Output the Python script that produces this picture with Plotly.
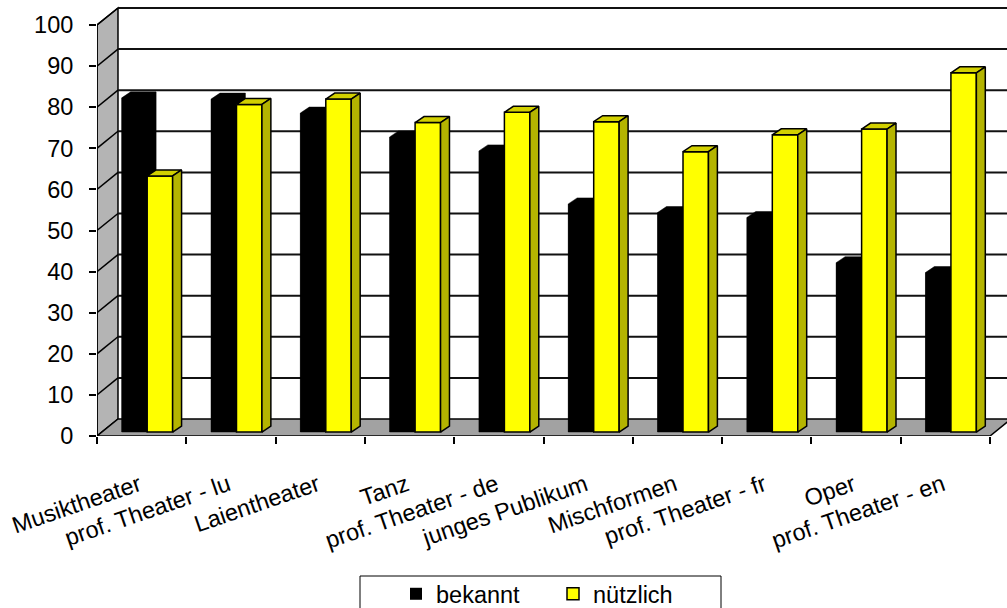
import plotly.graph_objects as go

# ---- data -------------------------------------------------------------
categories = ["Musiktheater", "prof. Theater - lu", "Laientheater", "Tanz",
              "prof. Theater - de", "junges Publikum", "Mischformen",
              "prof. Theater - fr", "Oper", "prof. Theater - en"]
bekannt = [81.3, 81.0, 77.6, 71.8, 68.4, 55.5, 53.4, 52.2, 41.2, 38.8]
nuetzlich = [62.3, 79.7, 81.0, 75.3, 77.8, 75.5, 68.2, 72.3, 73.7, 87.4]
y_ticks = [0, 10, 20, 30, 40, 50, 60, 70, 80, 90, 100]

# ---- pseudo-3D geometry (in axis units) -------------------------------
X_MAX = 10.19          # visible x extent (categories occupy 0..10)
Y_MAX = 105.11
WALL_DX, WALL_DY = 0.235, 4.14    # depth of floor / side wall
BAR_DX, BAR_DY = 0.10, 1.46       # depth of each column
BAR_BASE = 0.97                   # columns stand slightly inside the floor
BAR_W = 0.285
SHIFT = 0.062

BLACK = "#000000"
YELLOW = "#ffff00"
YELLOW_TOP = "#d2d000"
YELLOW_SIDE = "#b4b400"
WALL = "#b4b4b4"
FLOOR = "#a2a2a2"
FONT = "Arial, Liberation Sans, sans-serif"
FONT_SIZE = 23.5

n = len(categories)
idx = list(range(n))

fig = go.Figure()

# black series: front faces as bars, top/side silhouette as filled polygons
fig.add_trace(go.Bar(
    x=idx, y=bekannt, base=BAR_BASE, width=BAR_W,
    offset=0.5 + SHIFT - BAR_W, name="bekannt",
    marker=dict(color=BLACK, line=dict(width=0)),
    xaxis="x", yaxis="y", hoverinfo="skip"))

bx, by = [], []
for i, v in enumerate(bekannt):
    x0 = i + 0.5 + SHIFT - BAR_W
    x1 = x0 + BAR_W
    b, t = BAR_BASE, BAR_BASE + v
    bx += [x0, x0, x0 + BAR_DX, x1 + BAR_DX, x1 + BAR_DX, x1, x0, None]
    by += [b, t, t + BAR_DY, t + BAR_DY, b + BAR_DY, b, b, None]
fig.add_trace(go.Scatter(
    x=bx, y=by, mode="lines", fill="toself", fillcolor=BLACK,
    line=dict(color=BLACK, width=0.5), showlegend=False,
    hoverinfo="skip", xaxis="x", yaxis="y"))

# yellow series on an overlaying subplot so it sits in front of the black one
fig.add_trace(go.Bar(
    x=idx, y=nuetzlich, base=BAR_BASE, width=BAR_W,
    offset=0.5 + SHIFT, name="nützlich",
    marker=dict(color=YELLOW, line=dict(color=BLACK, width=1.5)),
    xaxis="x2", yaxis="y2", hoverinfo="skip"))

tx, ty, sx, sy = [], [], [], []
for i, v in enumerate(nuetzlich):
    x0 = i + 0.5 + SHIFT
    x1 = x0 + BAR_W
    b, t = BAR_BASE, BAR_BASE + v
    tx += [x0, x1, x1 + BAR_DX, x0 + BAR_DX, x0, None]
    ty += [t, t, t + BAR_DY, t + BAR_DY, t, None]
    sx += [x1, x1 + BAR_DX, x1 + BAR_DX, x1, x1, None]
    sy += [b, b + BAR_DY, t + BAR_DY, t, b, None]
fig.add_trace(go.Scatter(
    x=tx, y=ty, mode="lines", fill="toself", fillcolor=YELLOW_TOP,
    line=dict(color=BLACK, width=1.5), showlegend=False,
    hoverinfo="skip", xaxis="x2", yaxis="y2"))
fig.add_trace(go.Scatter(
    x=sx, y=sy, mode="lines", fill="toself", fillcolor=YELLOW_SIDE,
    line=dict(color=BLACK, width=1.5), showlegend=False,
    hoverinfo="skip", xaxis="x2", yaxis="y2"))

# ---- walls, floor and gridlines -------------------------------------
shapes = []
# side wall
shapes.append(dict(
    type="path", xref="x", yref="y", layer="below",
    path=f"M 0,0 L {WALL_DX},{WALL_DY} L {WALL_DX},{100 + WALL_DY} L 0,100 Z",
    fillcolor=WALL, line=dict(color=BLACK, width=1.5)))
# floor
shapes.append(dict(
    type="path", xref="x", yref="y", layer="below",
    path=(f"M 0,0 L {n},0 L {n + WALL_DX},{WALL_DY} "
          f"L {WALL_DX},{WALL_DY} Z"),
    fillcolor=FLOOR, line=dict(color=BLACK, width=1.5)))
for v in y_ticks[1:]:
    # gridline on the back wall
    shapes.append(dict(
        type="line", xref="x", yref="y", layer="below",
        x0=WALL_DX, x1=X_MAX + 1, y0=v + WALL_DY, y1=v + WALL_DY,
        line=dict(color="#111111", width=2)))
    # matching line across the side wall
    shapes.append(dict(
        type="line", xref="x", yref="y", layer="below",
        x0=0, x1=WALL_DX, y0=v, y1=v + WALL_DY,
        line=dict(color=BLACK, width=1.5)))
# front value axis
shapes.append(dict(
    type="line", xref="x", yref="y", layer="below",
    x0=0, x1=0, y0=0, y1=100, line=dict(color=BLACK, width=1.5)))

# legend frame
PW = 910.0
PH = 432.0
shapes.append(dict(
    type="rect", xref="paper", yref="paper",
    x0=(360 - 97) / PW, x1=(721 - 97) / PW,
    y0=-(576 - 436) / PH, y1=-0.6,
    fillcolor="white", line=dict(color=BLACK, width=1), layer="below"))

fig.update_layout(
    width=1007, height=608,
    template="none",
    paper_bgcolor="white", plot_bgcolor="white",
    margin=dict(l=97, r=0, t=4, b=172, pad=0, autoexpand=False),
    barmode="overlay",
    shapes=shapes,
    showlegend=True,
    legend=dict(
        orientation="h", xref="paper", yref="paper",
        x=(396 - 97) / PW, xanchor="left",
        y=-(572 - 436) / PH, yanchor="top",
        bgcolor="rgba(0,0,0,0)", borderwidth=0,
        font=dict(family=FONT, size=FONT_SIZE, color=BLACK),
        entrywidth=112, entrywidthmode="pixels",
        traceorder="normal"),
    xaxis=dict(
        range=[0, X_MAX], showgrid=False, zeroline=False, showline=False,
        tickmode="array", tickvals=[i + 0.47 for i in idx],
        ticktext=categories, tickangle=-19, ticks="",
        tickfont=dict(family=FONT, size=FONT_SIZE, color=BLACK),
        ticklabelstandoff=30,
        minor=dict(tickmode="array", tickvals=list(range(n + 1)),
                   ticks="outside", ticklen=7, tickcolor=BLACK,
                   tickwidth=1.5, showgrid=False),
        automargin=False, fixedrange=True),
    yaxis=dict(
        range=[0, Y_MAX], showgrid=False, zeroline=False, showline=False,
        tickmode="array", tickvals=y_ticks,
        ticks="outside", ticklen=7, tickcolor=BLACK, tickwidth=1.5,
        tickfont=dict(family=FONT, size=FONT_SIZE, color=BLACK),
        ticklabelstandoff=11,
        automargin=False, fixedrange=True),
    xaxis2=dict(range=[0, X_MAX], overlaying="x", visible=False,
                fixedrange=True),
    yaxis2=dict(range=[0, Y_MAX], overlaying="y", visible=False,
                fixedrange=True),
)

fig.write_html("out.html")
